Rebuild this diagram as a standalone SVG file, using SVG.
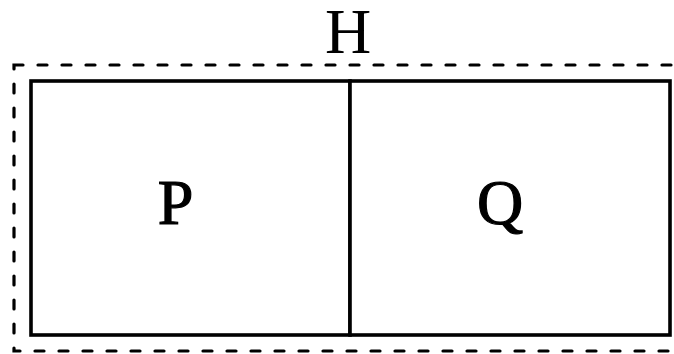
<svg xmlns="http://www.w3.org/2000/svg" width="674" height="354" viewBox="0 0 674 354">
<style>
.dash{fill:none;stroke:#000;stroke-width:3.2;stroke-dasharray:9 15;stroke-linecap:round}
.box{fill:#fff;stroke:#000;stroke-width:3.6}
text{font-family:'Liberation Serif','Times New Roman',Times,serif;fill:#000;text-anchor:middle;font-size:64px}
.pq{stroke:#000;stroke-width:1.2}
</style>
<rect width="674" height="354" fill="#fff"/>
<g id="H">
<rect class="dash" x="14" y="65" width="700" height="286"/>
<text x="348" y="53">H</text>
</g>
<g id="P">
<rect class="box" x="31" y="81" width="319" height="254"/>
<text class="pq" x="175.5" y="224">P</text>
</g>
<g id="Q">
<rect class="box" x="350" y="81" width="320" height="254"/>
<text class="pq" x="500" y="224">Q</text>
</g>
<g id="connectors"></g>
</svg>
